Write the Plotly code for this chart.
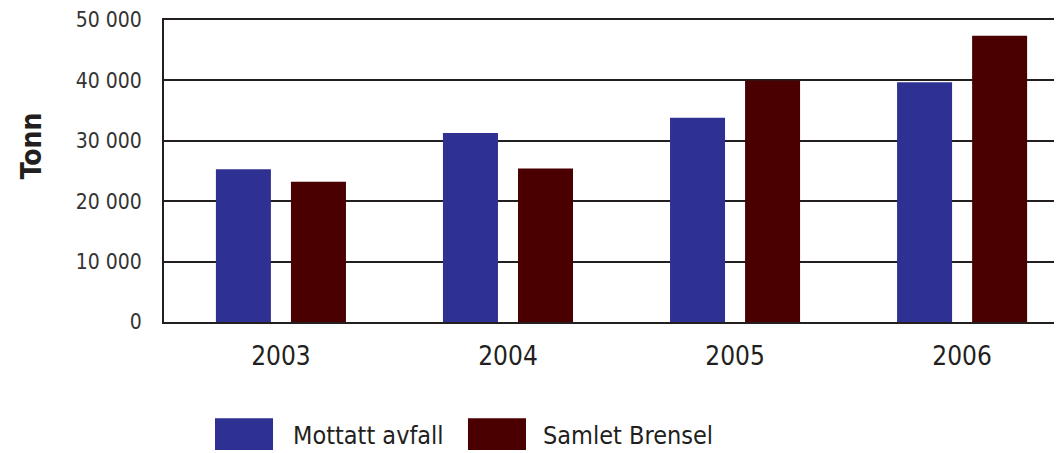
import plotly.graph_objects as go

years = ["2003", "2004", "2005", "2006"]
series_names = ["Mottatt avfall", "Samlet Brensel"]
mottatt_avfall = [25300, 31300, 33800, 39700]
samlet_brensel = [23200, 25400, 40000, 47400]
y_ticks = [0, 10000, 20000, 30000, 40000, 50000]
colors = ["#2E3192", "#4A0000"]

FONT = "DejaVu Sans Condensed, DejaVu Sans, sans-serif"

fig = go.Figure()
for name, vals, col in zip(series_names, [mottatt_avfall, samlet_brensel], colors):
    fig.add_trace(go.Bar(x=years, y=vals, name=name, marker=dict(color=col, line=dict(width=0)),
                         showlegend=False))

# custom legend (large swatches), in plot-area paper coordinates
swatch_x = [(0.0568, 0.1214), (0.3385, 0.4031)]
text_x = [0.1414, 0.4198]
for i, (name, col) in enumerate(zip(series_names, colors)):
    fig.add_shape(type="rect", xref="paper", yref="paper", x0=swatch_x[i][0], x1=swatch_x[i][1],
                  y0=-0.424, y1=-0.319, fillcolor=col, line=dict(width=0))
    fig.add_annotation(xref="paper", yref="paper", x=text_x[i], y=-0.375, text=name,
                       showarrow=False, xanchor="left", yanchor="middle",
                       font=dict(family=FONT, size=25, color="#231F20"))

# y-axis title
fig.add_annotation(xref="paper", yref="paper", x=-0.148, y=0.582, text="<b>Tonn</b>",
                   textangle=-90, showarrow=False, xanchor="center", yanchor="middle",
                   font=dict(family=FONT, size=28, color="#231F20"))

fig.update_layout(
    width=1054, height=445,
    margin=dict(l=156, r=0, t=10, b=131),
    paper_bgcolor="white", plot_bgcolor="white",
    barmode="group", bargap=0.339, bargroupgap=0.267,
    separators=", ",
    font=dict(family=FONT, color="#231F20"),
    xaxis=dict(range=[-0.515, 3.44], showgrid=False, showline=True, mirror=True,
               linecolor="#231F20", linewidth=2, ticks="",
               tickfont=dict(size=26, color="#231F20"), ticklabelstandoff=10),
    yaxis=dict(range=[0, 50000], tickvals=y_ticks, tickformat=",d", showgrid=True,
               gridcolor="#231F20", gridwidth=2, showline=True, linecolor="#231F20",
               linewidth=2, zeroline=False, ticks="", tickfont=dict(size=21, color="#333333"),
               ticklabelstandoff=16, ticklabeloverflow="allow"),
)

fig.write_html("out.html")
